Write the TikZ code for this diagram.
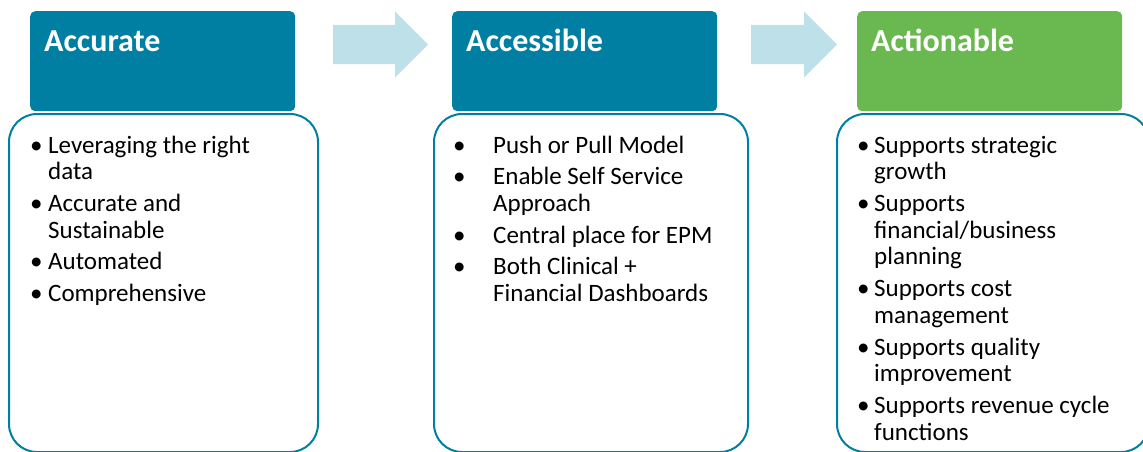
\documentclass[tikz,border=0pt]{standalone}
\usepackage{fontspec}
\setmainfont{Carlito}
\usepackage{xcolor}
\usetikzlibrary{shapes.arrows}
\definecolor{teal1}{RGB}{0,127,163}
\definecolor{green1}{RGB}{106,184,80}
\definecolor{lightarr}{RGB}{190,224,232}

\begin{document}
\begin{tikzpicture}[x=1pt,y=-1pt,
    head/.style={rectangle,rounded corners=5pt,anchor=north west,inner sep=0pt,
                 minimum width=265pt,minimum height=100pt,fill=teal1},
    title/.style={anchor=base west,inner sep=0pt,text=white,font=\fontsize{32}{38}\selectfont\bfseries},
    body/.style={rectangle,rounded corners=28pt,anchor=north west,inner sep=0pt,
                 minimum height=338pt,draw=teal1,line width=2pt,fill=white},
    items/.style={anchor=north west,inner sep=0pt,font=\fontsize{25}{26.7}\selectfont},
    flow/.style={single arrow,anchor=tail,fill=lightarr,inner xsep=0pt,inner ysep=19.5pt,
                 single arrow head extend=13.5pt,single arrow tip angle=90}]

  \useasboundingbox (0,0) rectangle (1143,452);

  \node[flow,minimum height=95pt] (arr1) at (333,44.5) {};
  \node[flow,minimum height=86pt] (arr2) at (751,44.5) {};

  \node[body,minimum width=309pt] (bAcc) at (8,113) {};
  \node[body,minimum width=314pt] (bAcs) at (433,113) {};
  \node[body,minimum width=312pt] (bAct) at (836,113) {};

  \node[head] (hAcc) at (30,11) {};
  \node[head] (hAcs) at (452,11) {};
  \node[head,fill=green1] (hAct) at (857,11) {};

  \node[title] (tAcc) at (44,52) {Accurate};
  \node[title] (tAcs) at (466,52) {Accessible};
  \node[title] (tAct) at (871,52) {Actionable};

  \node[items] (lAcc) at (30,134.3) {\begin{tabular}{@{}p{18pt}@{}l@{}}
    \textbullet & Leveraging the right\\
                & data\\[5pt]
    \textbullet & Accurate and\\
                & Sustainable\\[5pt]
    \textbullet & Automated\\[5pt]
    \textbullet & Comprehensive
  \end{tabular}};

  \node[items] (lAcs) at (453,134.3) {\begin{tabular}{@{}p{40pt}@{}l@{}}
    \textbullet & Push or Pull Model\\[5pt]
    \textbullet & Enable Self Service\\
                & Approach\\[5pt]
    \textbullet & Central place for EPM\\[5pt]
    \textbullet & Both Clinical +\\
                & Financial Dashboards
  \end{tabular}};

  \node[items] (lAct) at (857,134.3) {\begin{tabular}{@{}p{17pt}@{}l@{}}
    \textbullet & Supports strategic\\
                & growth\\[5pt]
    \textbullet & Supports\\
                & financial/business\\
                & planning\\[5pt]
    \textbullet & Supports cost\\
                & management\\[5pt]
    \textbullet & Supports quality\\
                & improvement\\[5pt]
    \textbullet & Supports revenue cycle\\
                & functions
  \end{tabular}};
\end{tikzpicture}
\end{document}
